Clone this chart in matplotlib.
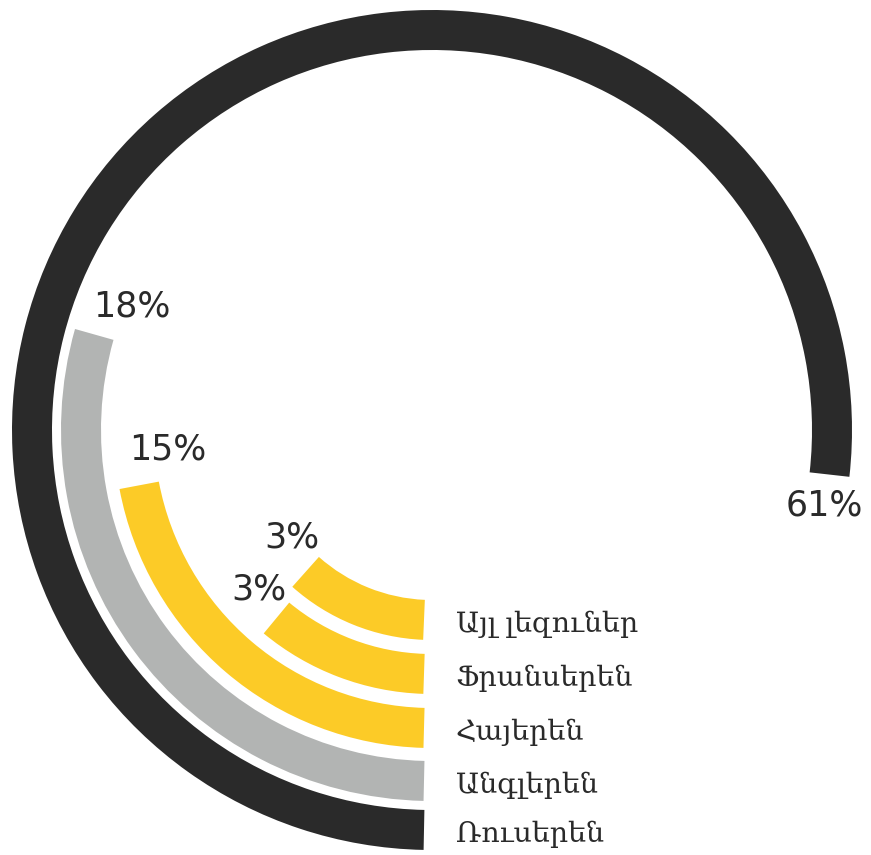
import numpy as np
import matplotlib
matplotlib.use("Agg")
import matplotlib.pyplot as plt

# ---- data (outer ring -> inner ring) ----
categories = ["Ռուսերեն", "Անգլերեն", "Հայերեն", "Ֆրանսերեն", "Այլ լեզուներ"]
percent = [61, 18, 15, 3, 3]
# angular extent of each arc as drawn in the reference (degrees, clockwise from 6 o'clock)
arc_end_deg = [276.4, 105.8, 79.3, 39.6, 41.7]

# ---- style ----
colors = ["#2a2a2a", "#b2b4b3", "#fccb27", "#fccb27", "#fccb27"]
r_inner = [380, 331, 278, 224, 170]
ring_w = 40
label_dtheta = [4.5, 6.6, 6.4, 7.8, 10.9]
label_r = [400, 325, 265, 235, 177]
text_color = "#2a2a2a"

W, H, DPI = 871, 855, 100
cx, cy = 432, 430  # pixel centre (from top-left)
Rp = 430

fig = plt.figure(figsize=(W / DPI, H / DPI), dpi=DPI)
ax = fig.add_axes([(cx - Rp) / W, (H - cy - Rp) / H, 2 * Rp / W, 2 * Rp / H],
                  projection="polar")
ax.set_theta_zero_location("S")
ax.set_theta_direction(-1)
ax.set_ylim(0, Rp)
ax.set_axis_off()

for cat, p, end, col, ri, dth, lr in zip(categories, percent, arc_end_deg, colors,
                                         r_inner, label_dtheta, label_r):
    rm = ri + ring_w / 2
    start = np.degrees(np.arcsin(8 / rm))
    ax.bar(np.radians(start), ring_w, width=np.radians(end - start), bottom=ri,
           align="edge", color=col, edgecolor="none", linewidth=0)
    ax.text(np.radians(end + dth), lr, f"{p}%", ha="center", va="center",
            fontsize=25, color=text_color, family="DejaVu Sans")
    ax.annotate(cat, xy=(0, rm), xytext=(17, -3), textcoords="offset points",
                ha="left", va="center", fontsize=20.5, color=text_color,
                family=["DejaVu Serif", "DejaVu Sans"])

fig.savefig("out.png", dpi=DPI, facecolor="white")
